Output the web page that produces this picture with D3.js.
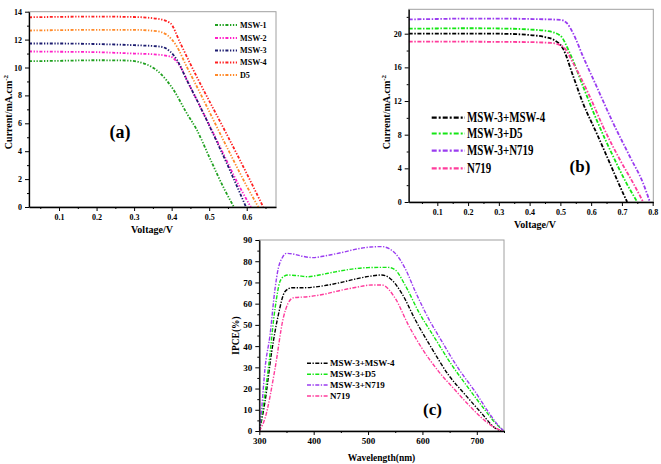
<!DOCTYPE html>
<html><head><meta charset="utf-8">
<script src="https://cdn.jsdelivr.net/npm/d3@7/dist/d3.min.js"></script>
<style>
body{margin:0;background:#fff}
svg{display:block}
text{font-family:"Liberation Serif","Times New Roman",serif;font-weight:bold;fill:#000}
</style>
</head><body>
<svg id="chart" width="661" height="464"></svg>
<script>
// ---------- Panel (a): J-V curves, single dyes ----------
const namesA = ["MSW-1", "MSW-2", "MSW-3", "MSW-4", "D5"];
const jvMSW1 = [[0.02,10.45],[0.1,10.48],[0.2,10.52],[0.28,10.5],[0.325,10.3],[0.369,9.6],[0.405,8.4],[0.44,6.73],[0.467,5.53],[0.5,3.6],[0.54,1.3],[0.566,0]];
const jvMSW2 = [[0.02,11.15],[0.1,11.13],[0.2,11.1],[0.3,11.0],[0.35,10.95],[0.396,10.79],[0.423,10.07],[0.449,8.64],[0.476,7.2],[0.529,4.3],[0.582,1.4],[0.611,0]];
const jvMSW3 = [[0.02,11.72],[0.1,11.72],[0.2,11.68],[0.3,11.6],[0.369,11.5],[0.396,11.15],[0.414,10.55],[0.44,9.12],[0.467,7.68],[0.52,4.7],[0.564,2.1],[0.598,0]];
const jvMSW4 = [[0.02,13.6],[0.1,13.63],[0.2,13.65],[0.3,13.62],[0.36,13.5],[0.396,13.19],[0.423,11.75],[0.449,10.3],[0.471,9.12],[0.547,5.2],[0.6,2.4],[0.644,0]];
const jvD5   = [[0.02,12.65],[0.1,12.68],[0.2,12.7],[0.3,12.7],[0.36,12.6],[0.387,12.35],[0.414,11.5],[0.44,10.07],[0.467,8.64],[0.547,4.3],[0.6,1.5],[0.631,0]];
const xTicksA = [0.1, 0.2, 0.3, 0.4, 0.5, 0.6];
const yTicksA = [0, 2, 4, 6, 8, 10, 12, 14];

// ---------- Panel (b): J-V curves, co-sensitized ----------
const namesB = ["MSW-3+MSW-4", "MSW-3+D5", "MSW-3+N719", "N719"];
const jvM3M4 = [[0.007,20.0],[0.1,20.0],[0.2,20.02],[0.3,20.0],[0.4,19.85],[0.45,19.6],[0.477,19.3],[0.509,18.2],[0.542,14.9],[0.574,11.7],[0.618,8.16],[0.661,4.6],[0.694,1.82],[0.717,0]];
const jvM3D5 = [[0.007,20.6],[0.1,20.62],[0.2,20.65],[0.3,20.62],[0.4,20.5],[0.46,20.3],[0.499,19.8],[0.531,17.66],[0.574,13.7],[0.618,9.74],[0.672,5.38],[0.715,2.22],[0.75,0]];
const jvM3N719 = [[0.007,21.7],[0.1,21.75],[0.2,21.8],[0.3,21.8],[0.4,21.75],[0.5,21.65],[0.52,21.3],[0.542,20.0],[0.574,17.26],[0.618,13.7],[0.672,9.35],[0.726,5.38],[0.769,2.22],[0.791,0]];
const jvN719 = [[0.007,19.05],[0.1,19.05],[0.2,19.05],[0.3,19.03],[0.4,19.0],[0.47,18.9],[0.509,18.45],[0.542,16.47],[0.596,12.5],[0.639,8.94],[0.694,4.99],[0.737,2.22],[0.769,0]];
const xTicksB = [0.1, 0.2, 0.3, 0.4, 0.5, 0.6, 0.7, 0.8];
const yTicksB = [0, 4, 8, 12, 16, 20];

// ---------- Panel (c): IPCE spectra ----------
const namesC = ["MSW-3+MSW-4", "MSW-3+D5", "MSW-3+N719", "N719"];
const ipceM3M4 = [[300,0],[310.5,13.8],[322.8,37.4],[335,54.7],[347,65.6],[360,67.5],[380,67.5],[396,67.7],[420,68.5],[450,70],[480,71.8],[505,73],[525,73.5],[540,72],[562,64.9],[587,52.3],[617,39],[648,26.4],[679,17],[709,8.3],[734,1.3],[745,0]];
const ipceM3D5 = [[300,0],[305,8],[316.6,29.5],[329,57.8],[338,70.4],[346,73],[353,73.5],[370,73.2],[390,72.7],[410,73.5],[440,75],[470,76.3],[500,77],[522,77.1],[537,77.1],[550,75.9],[568,68.8],[593,56.2],[623,43.7],[654,31.1],[685,20.1],[715,9.9],[735,3.5],[750,0]];
const ipceM3N719 = [[300,0],[304.4,10.7],[310.5,29.5],[319.7,45.2],[329,67.2],[335,76.7],[342,81.5],[350,83.7],[360,83.5],[380,82.3],[399,81.7],[420,82.5],[450,84],[480,85.8],[505,86.7],[525,86.9],[538,86],[550,83.7],[568,76.7],[587,65.7],[611,53.1],[636,42.1],[666,29.5],[697,18.5],[721,9.1],[740,2.5],[750,0]];
const ipceN719 = [[300,0],[310.5,6],[329,29.5],[344,53.1],[353,60.2],[363,62.8],[390,63.3],[420,64.5],[450,66.3],[480,67.8],[507,68.8],[525,68.8],[550,62.5],[574,50],[599,39],[630,28],[660,19.3],[691,10.7],[721,3.6],[742,0.5],[748,0]];
const xTicksC = [300, 400, 500, 600, 700];
const yTicksC = [0, 10, 20, 30, 40, 50, 60, 70, 80, 90];

// ---------- styles ----------
const colorsA = ["#20a020", "#ff20c8", "#1c1c70", "#ff2020", "#ff8a2a"];
const colorsBC = ["#000000", "#14e614", "#9a3cf0", "#ff3c9c"];

const svg = d3.select("#chart");

function drawPanel(cfg) {
  const g = svg.append("g");
  const x = d3.scaleLinear().domain(cfg.xDomain).range([cfg.left, cfg.right]);
  const y = d3.scaleLinear().domain(cfg.yDomain).range([cfg.bottom, cfg.top]);

  g.append("rect").attr("x", cfg.left).attr("y", cfg.top)
    .attr("width", cfg.right - cfg.left).attr("height", cfg.bottom - cfg.top)
    .attr("fill", "none").attr("stroke", "#a0a0a0").attr("stroke-width", 1);

  const cid = "clip" + cfg.id;
  svg.append("clipPath").attr("id", cid).append("rect")
    .attr("x", cfg.left).attr("y", cfg.top - 2)
    .attr("width", cfg.right - cfg.left + 2).attr("height", cfg.bottom - cfg.top + 2);

  const line = d3.line().x(d => x(d[0])).y(d => y(d[1])).curve(d3.curveMonotoneX);
  g.append("g").attr("clip-path", `url(#${cid})`)
    .selectAll("path").data(cfg.series).join("path")
    .attr("d", d => line(d))
    .attr("fill", "none")
    .attr("stroke", (d, i) => cfg.colors[i])
    .attr("stroke-width", cfg.lw)
    .attr("stroke-dasharray", cfg.dash);

  g.append("g").attr("transform", `translate(0,${cfg.bottom})`)
    .call(d3.axisBottom(x).tickValues(cfg.xMinor).tickSize(2).tickSizeOuter(0).tickFormat(""))
    .call(a => a.select(".domain").remove())
    .call(a => a.selectAll("line").attr("stroke", "#000"));
  g.append("g").attr("transform", `translate(${cfg.left},0)`)
    .call(d3.axisLeft(y).tickValues(cfg.yMinor).tickSize(2).tickSizeOuter(0).tickFormat(""))
    .call(a => a.select(".domain").remove())
    .call(a => a.selectAll("line").attr("stroke", "#000"));

  const ax = g.append("g").attr("transform", `translate(0,${cfg.bottom})`)
    .call(d3.axisBottom(x).tickValues(cfg.xTicks).tickSize(4).tickSizeOuter(0).tickPadding(3).tickFormat(cfg.xFmt));
  const ay = g.append("g").attr("transform", `translate(${cfg.left},0)`)
    .call(d3.axisLeft(y).tickValues(cfg.yTicks).tickSize(4).tickSizeOuter(0).tickPadding(3).tickFormat(d3.format("d")));
  [ax, ay].forEach(a => {
    a.select(".domain").attr("stroke", "#000").attr("stroke-width", 1.3);
    a.selectAll("line").attr("stroke", "#000");
    a.selectAll("text").style("font-family", '"Liberation Serif",serif')
      .style("font-weight", "bold").style("font-size", cfg.tickFs + "px").attr("fill", "#000");
  });

  g.append("text").attr("x", cfg.xlx).attr("y", cfg.xly).attr("text-anchor", "middle")
    .style("font-size", cfg.labFs + "px").text(cfg.xLabel);
  const yl = g.append("text").attr("transform", `translate(${cfg.ylx},${cfg.yly}) rotate(-90)`)
    .attr("text-anchor", "middle").style("font-size", cfg.labFs + "px");
  yl.append("tspan").text(cfg.yLabel);
  if (cfg.ySup) yl.append("tspan").attr("dy", -4).style("font-size", (cfg.labFs * 0.7) + "px").text(cfg.ySup);

  g.append("text").attr("x", cfg.tagX).attr("y", cfg.tagY).attr("text-anchor", "middle")
    .style("font-size", cfg.tagFs + "px").text(cfg.tag);

  const lg = g.append("g");
  cfg.names.forEach((n, i) => {
    const yy = cfg.legY[i];
    lg.append("line").attr("x1", cfg.legX0).attr("x2", cfg.legX1).attr("y1", yy).attr("y2", yy)
      .attr("stroke", cfg.colors[i]).attr("stroke-width", cfg.legLw).attr("stroke-dasharray", cfg.legDash);
    lg.append("text").attr("transform", `translate(${cfg.legTx},${yy + cfg.legFs * 0.33}) scale(${cfg.legSx},1)`)
      .style("font-size", cfg.legFs + "px").text(n);
  });
}

drawPanel({
  id: "a", left: 29, right: 276, top: 11.7, bottom: 207,
  xDomain: [0.02, 0.678], yDomain: [0, 14],
  xTicks: xTicksA, yTicks: yTicksA,
  xMinor: [0.05, 0.15, 0.25, 0.35, 0.45, 0.55, 0.65], yMinor: [1, 3, 5, 7, 9, 11, 13],
  xFmt: d3.format(".1f"), tickFs: 8, labFs: 10,
  series: [jvMSW1, jvMSW2, jvMSW3, jvMSW4, jvD5], colors: colorsA,
  lw: 1.8, dash: "3,1.6,1.3,1.6,1.3,1.6",
  xLabel: "Voltage/V", xlx: 152, xly: 233,
  yLabel: "Current/mA.cm", ySup: "-2", ylx: 12, yly: 112,
  tag: "(a)", tagX: 120, tagY: 138, tagFs: 18,
  names: namesA, legY: [25, 38, 50.5, 62.5, 75], legX0: 215, legX1: 237, legTx: 240,
  legFs: 9, legSx: 0.9, legLw: 1.8, legDash: "3,1.6,1.3,1.6,1.3,1.6"
});

drawPanel({
  id: "b", left: 408.7, right: 653.3, top: 9.3, bottom: 202,
  xDomain: [0.007, 0.802], yDomain: [0, 22.9],
  xTicks: xTicksB, yTicks: yTicksB,
  xMinor: [0.05, 0.15, 0.25, 0.35, 0.45, 0.55, 0.65, 0.75], yMinor: [2, 6, 10, 14, 18, 22],
  xFmt: d3.format(".1f"), tickFs: 8, labFs: 10,
  series: [jvM3M4, jvM3D5, jvM3N719, jvN719], colors: colorsBC,
  lw: 1.8, dash: "4,1.6,1.5,1.6",
  xLabel: "Voltage/V", xlx: 535, xly: 228,
  yLabel: "Current/mA.cm", ySup: "-2", ylx: 390, yly: 112,
  tag: "(b)", tagX: 580, tagY: 172, tagFs: 17,
  names: namesB, legY: [117.7, 133.5, 150.7, 168.3], legX0: 431.7, legX1: 465, legTx: 467,
  legFs: 14, legSx: 0.78, legLw: 2.2, legDash: "5,2,2,2"
});

drawPanel({
  id: "c", left: 259.3, right: 504, top: 240, bottom: 431,
  xDomain: [300, 750], yDomain: [0, 90],
  xTicks: xTicksC, yTicks: yTicksC,
  xMinor: [350, 450, 550, 650, 750], yMinor: [5, 15, 25, 35, 45, 55, 65, 75, 85],
  xFmt: d3.format("d"), tickFs: 9, labFs: 9.5,
  series: [ipceM3M4, ipceM3D5, ipceM3N719, ipceN719], colors: colorsBC,
  lw: 1.4, dash: "4,1.5,1.3,1.5",
  xLabel: "Wavelength(nm)", xlx: 381.5, xly: 461,
  yLabel: "IPCE(%)", ySup: null, ylx: 239, yly: 335.5,
  tag: "(c)", tagX: 432.5, tagY: 415, tagFs: 17,
  names: namesC, legY: [363.3, 374.3, 385, 396], legX0: 307, legX1: 328, legTx: 330,
  legFs: 9, legSx: 1, legLw: 1.6, legDash: "4,1.5,1.3,1.5"
});
</script>
</body></html>
